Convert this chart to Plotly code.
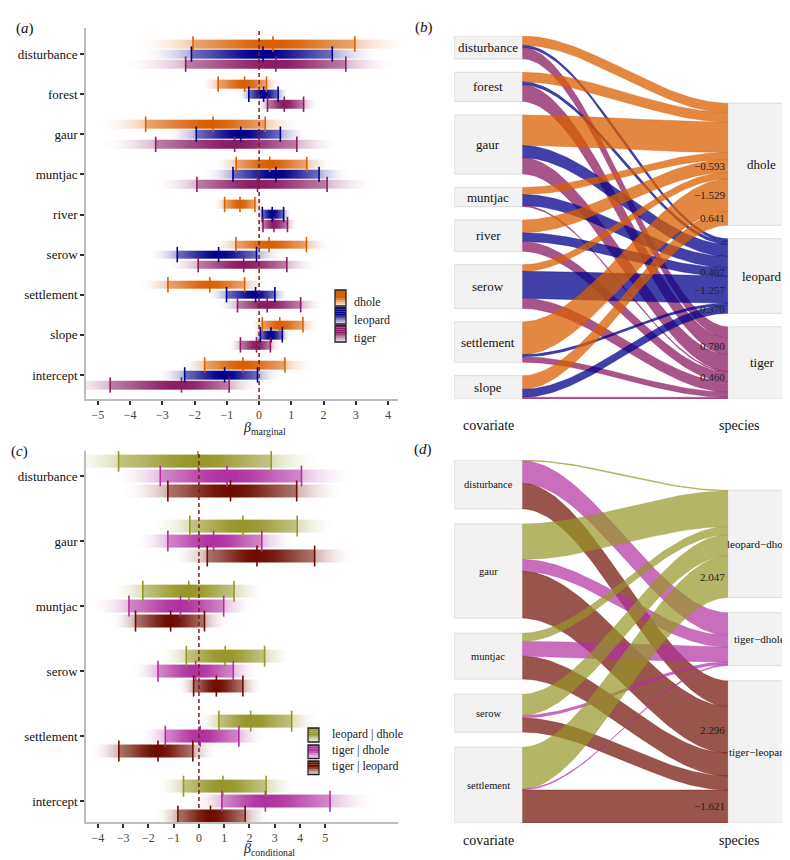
import numpy as np
import plotly.graph_objects as go

W, H = 790, 860
FONT = "Liberation Serif, Times New Roman, Times, serif"

# ---------------- Panel (a): marginal coefficients (lower, median, upper) ----------------
cov_a = ["disturbance", "forest", "gaur", "muntjac", "river", "serow", "settlement", "slope", "intercept"]
species_a = ["dhole", "leopard", "tiger"]
dhole_lo = [-2.05, -1.27, -3.52, -0.71, -1.07, -0.72, -2.83, 0.10, -1.69]
dhole_med = [0.43, -0.45, -1.43, 0.33, -0.593, 0.31, -1.529, 0.641, -0.50]
dhole_hi = [2.97, 0.23, 0.19, 1.48, -0.13, 1.47, -0.45, 1.36, 0.80]
leopard_lo = [-2.10, -0.32, -1.95, -0.81, 0.10, -2.54, -1.01, 0.04, -2.31]
leopard_med = [0.12, 0.14, -0.57, 0.52, 0.407, -1.257, -0.11, 0.370, -1.07]
leopard_hi = [2.27, 0.59, 0.66, 1.86, 0.76, -0.08, 0.49, 0.72, -0.05]
tiger_lo = [-2.28, 0.26, -3.21, -1.93, 0.12, -1.89, -0.67, -0.58, -4.62]
tiger_med = [0.52, 0.780, -0.76, -0.05, 0.460, -0.48, 0.25, -0.08, -2.41]
tiger_hi = [2.69, 1.38, 1.17, 2.11, 0.88, 0.86, 1.29, 0.35, -0.93]
ticks_a = [-5, -4, -3, -2, -1, 0, 1, 2, 3, 4]

# ---------------- Panel (c): conditional coefficients ----------------
cov_c = ["disturbance", "gaur", "muntjac", "serow", "settlement", "intercept"]
pairs_c = ["leopard | dhole", "tiger | dhole", "tiger | leopard"]
pairs_d = ["leopard\u2212dhole", "tiger\u2212dhole", "tiger\u2212leopard"]
ld_lo = [-3.18, -0.36, -2.22, -0.50, 0.79, -0.61]
ld_med = [-0.04, 1.74, -0.40, 1.04, 2.047, 0.95]
ld_hi = [2.86, 3.89, 1.39, 2.60, 3.67, 2.66]
td_lo = [-1.53, -1.23, -2.77, -1.62, -1.33, 0.91]
td_med = [1.11, 0.58, -0.73, -0.13, 0.05, 2.63]
td_hi = [4.06, 2.49, 0.98, 1.36, 1.58, 5.19]
tl_lo = [-1.23, 0.33, -2.51, -0.21, -3.17, -0.83]
tl_med = [1.25, 2.296, -1.12, 0.69, -1.621, 0.46]
tl_hi = [3.87, 4.58, 0.22, 1.74, -0.24, 1.83]
ticks_c = [-4, -3, -2, -1, 0, 1, 2, 3, 4, 5]

# colours (style)
col_a = [(217, 95, 2), (0, 0, 139), (139, 28, 98)]
col_c = [(150, 150, 40), (176, 48, 160), (110, 12, 0)]

XR_A = [-5.372, 4.31]
XR_C = [-4.47, 7.88]


def fx(p):
    return p / W


def fy(p):
    return 1 - p / H


def rgba(c, a):
    return "rgba(%d,%d,%d,%.3f)" % (c[0], c[1], c[2], a)


def alpha_at(x, lo, med, hi):
    if x < med:
        hw = max(med - lo, 1e-6)
        t = (med - x) / hw
    else:
        hw = max(hi - med, 1e-6)
        t = (x - med) / hw
    if t <= 1:
        return 0.45 + 0.55 * np.exp(-1.5 * t * t)
    return 0.33 * max(0.0, 1 - (t - 1) / 0.75) ** 2


def gradient_heatmap(los, meds, his, ypos, color, bandh, xa, ya, xr, dx=0.01):
    xedges = np.arange(xr[0] - dx, xr[1] + 2 * dx, dx)
    xc = 0.5 * (xedges[:-1] + xedges[1:])
    rows, yedges = [], []
    n = len(ypos)
    for idx, (lo, med, hi, y) in enumerate(zip(los, meds, his, ypos)):
        rows.append([round(float(alpha_at(x, lo, med, hi)), 3) for x in xc])
        if idx < n - 1:
            rows.append([None] * len(xc))
        yedges += [y - bandh / 2, y + bandh / 2]
    return go.Heatmap(z=rows, x=[round(float(v), 4) for v in xedges], y=yedges,
                      colorscale=[[0, rgba(color, 0)], [1, rgba(color, 1)]],
                      zmin=0, zmax=1, showscale=False, zsmooth=False,
                      xaxis=xa, yaxis=ya, hoverinfo="skip")


def tick_trace(los, meds, his, ypos, color, size, xa, ya):
    xs = list(los) + list(meds) + list(his)
    ys = list(ypos) * 3
    return go.Scatter(x=xs, y=ys, mode="markers",
                      marker=dict(symbol="line-ns", size=size, color=rgba(color, 1),
                                  line=dict(width=1.6, color=rgba(color, 1))),
                      xaxis=xa, yaxis=ya, showlegend=False, hoverinfo="skip")


traces = []
shapes = []
annotations = []

# ---- panel (a) marks
series_a = [(dhole_lo, dhole_med, dhole_hi), (leopard_lo, leopard_med, leopard_hi),
            (tiger_lo, tiger_med, tiger_hi)]
offs_a = [-0.25, 0.0, 0.25]
for k, (lo, md, hi) in enumerate(series_a):
    yp = [i + offs_a[k] for i in range(len(cov_a))]
    traces.append(gradient_heatmap(lo, md, hi, yp, col_a[k], 0.22, "x", "y", XR_A))
for k, (lo, md, hi) in enumerate(series_a):
    yp = [i + offs_a[k] for i in range(len(cov_a))]
    traces.append(tick_trace(lo, md, hi, yp, col_a[k], 11, "x", "y"))

# ---- panel (c) marks
series_c = [(ld_lo, ld_med, ld_hi), (td_lo, td_med, td_hi), (tl_lo, tl_med, tl_hi)]
offs_c = [-0.23, 0.0, 0.23]
for k, (lo, md, hi) in enumerate(series_c):
    yp = [i + offs_c[k] for i in range(len(cov_c))]
    traces.append(gradient_heatmap(lo, md, hi, yp, col_c[k], 0.2, "x3", "y3", XR_C))
for k, (lo, md, hi) in enumerate(series_c):
    yp = [i + offs_c[k] for i in range(len(cov_c))]
    traces.append(tick_trace(lo, md, hi, yp, col_c[k], 15, "x3", "y3"))

# zero lines
for xr, yr in [("x", "y domain"), ("x3", "y3 domain")]:
    shapes.append(dict(type="line", xref=xr, yref=yr, x0=0, x1=0, y0=0, y1=1,
                       line=dict(color="#7a1f1f", width=1.5, dash="4px,3px")))


# ---- legends for (a) and (c)
def legend(entries, colors, bx0, bx1, boxes, tx, tys):
    for (y0, y1), c, lab, ty in zip(boxes, colors, entries, tys):
        n = 8
        hh = (y1 - y0) / n
        alphas = [1, 1, 1, 1, 0.8, 0.55, 0.35, 0.18]
        for j in range(n):
            shapes.append(dict(type="rect", xref="paper", yref="paper",
                               x0=fx(bx0), x1=fx(bx1), y0=fy(y0 + (j + 1) * hh), y1=fy(y0 + j * hh),
                               fillcolor=rgba(c, alphas[j]), line=dict(width=0)))
        shapes.append(dict(type="rect", xref="paper", yref="paper",
                           x0=fx(bx0), x1=fx(bx1), y0=fy(y1), y1=fy(y0),
                           fillcolor="rgba(0,0,0,0)", line=dict(color="#222", width=1.3)))
        annotations.append(dict(xref="paper", yref="paper", x=fx(tx), y=fy(ty), text=lab,
                                showarrow=False, xanchor="left", yanchor="middle",
                                font=dict(family=FONT, size=12, color="#222")))


legend(species_a, col_a, 327, 338, [(282, 298), (299.5, 316), (317.5, 334)], 344, [294, 312, 330])
legend(pairs_c, col_c, 300, 311, [(720, 734), (737, 750.5), (753, 766.5)], 322, [726, 742, 758])


# ---------------- Alluvial panels (b) and (d) ----------------
def alluvial(cov_names, sp_names, meds_by_sp, los_by_sp, his_by_sp, link_cols, xa, ya,
             cov_fs, sp_fs, sp_x):
    ncov, nsp = len(cov_names), len(sp_names)
    vals = np.array([[abs(meds_by_sp[j][i]) for j in range(nsp)] for i in range(ncov)])
    total = vals.sum()
    gap = 0.05 * total
    hcov = total + (ncov - 1) * gap
    hsp = total + (nsp - 1) * gap
    cov_top = []
    y = hcov
    for i in range(ncov):
        cov_top.append(y)
        y = y - vals[i].sum() - gap
    sp_top = []
    y = hsp
    for j in range(nsp):
        sp_top.append(y)
        y = y - vals[:, j].sum() - gap
    for i in range(ncov):
        t, b = cov_top[i], cov_top[i] - vals[i].sum()
        shapes.append(dict(type="rect", xref=xa, yref=ya, x0=0, x1=0.2, y0=b, y1=t,
                           fillcolor="#F2F2F2", line=dict(color="#DCDCDC", width=1), layer="below"))
        annotations.append(dict(xref=xa, yref=ya, x=0.1, y=(t + b) / 2, text=cov_names[i],
                                showarrow=False, font=dict(family=FONT, size=cov_fs, color="#111")))
    for j in range(nsp):
        t, b = sp_top[j], sp_top[j] - vals[:, j].sum()
        shapes.append(dict(type="rect", xref=xa, yref=ya, x0=0.8, x1=1.0, y0=b, y1=t,
                           fillcolor="#F2F2F2", line=dict(color="#DCDCDC", width=1), layer="below"))
        annotations.append(dict(xref=xa, yref=ya, x=sp_x, y=(t + b) / 2, text=sp_names[j],
                                showarrow=False, borderpad=0,
                                font=dict(family=FONT, size=sp_fs, color="#111")))
    sp_cursor = list(sp_top)
    cov_cursor = list(cov_top)
    tt = np.linspace(0, 1, 60)
    s = 3 * tt ** 2 - 2 * tt ** 3
    xs = 0.2 + 0.6 * tt
    for i in range(ncov):
        for j in range(nsp):
            v = vals[i, j]
            a0 = cov_cursor[i]
            b0 = sp_cursor[j]
            cov_cursor[i] -= v
            sp_cursor[j] -= v
            top = a0 + (b0 - a0) * s
            bot = top - v
            px = np.concatenate([xs, xs[::-1]])
            pyv = np.concatenate([top, bot[::-1]])
            traces.append(go.Scatter(x=px, y=pyv, mode="lines", fill="toself",
                                     fillcolor=link_cols[j], line=dict(color=link_cols[j], width=0.5),
                                     xaxis=xa, yaxis=ya, showlegend=False, hoverinfo="skip"))
            med = meds_by_sp[j][i]
            if los_by_sp[j][i] > 0 or his_by_sp[j][i] < 0:
                annotations.append(dict(xref=xa, yref=ya, x=0.8, y=b0 - v / 2,
                                        text=("%.3f" % med).replace("-", "\u2212"),
                                        showarrow=False, xanchor="right", xshift=-1,
                                        font=dict(family=FONT, size=11, color="#222")))
    return hcov


ncb = 8
hb = alluvial(cov_a[:ncb], species_a,
              [dhole_med[:ncb], leopard_med[:ncb], tiger_med[:ncb]],
              [dhole_lo[:ncb], leopard_lo[:ncb], tiger_lo[:ncb]],
              [dhole_hi[:ncb], leopard_hi[:ncb], tiger_hi[:ncb]],
              [rgba(c, 0.75) for c in col_a], "x2", "y2", 13, 13, 0.9)
ncd = 5
hd = alluvial(cov_c[:ncd], pairs_d,
              [ld_med[:ncd], td_med[:ncd], tl_med[:ncd]],
              [ld_lo[:ncd], td_lo[:ncd], tl_lo[:ncd]],
              [ld_hi[:ncd], td_hi[:ncd], tl_hi[:ncd]],
              [rgba(c, 0.7) for c in col_c], "x4", "y4", 10.5, 11, 0.893)

# column titles
for (px_, py_, txt) in [(480, 418, "covariate"), (753, 418, "species"),
                        (480, 842, "covariate"), (753, 842, "species")]:
    annotations.append(dict(xref="paper", yref="paper", x=fx(px_), y=fy(py_), text=txt,
                            showarrow=False, font=dict(family=FONT, size=14, color="#111")))

# panel labels
for (px_, py_, lab) in [(6, 10, "a"), (405, 9, "b"), (1, 443, "c"), (404, 442, "d")]:
    annotations.append(dict(xref="paper", yref="paper", x=fx(px_), y=fy(py_),
                            text="(<i>%s</i>)" % lab, showarrow=False, xanchor="left",
                            font=dict(family=FONT, size=15, color="#111")))

# axis titles
annotations.append(dict(xref="paper", yref="paper", x=fx(234), y=fy(420),
                        text="<i>\u03b2</i><sub>marginal</sub>", showarrow=False, borderpad=0,
                        font=dict(family=FONT, size=14, color="#222")))
annotations.append(dict(xref="paper", yref="paper", x=fx(234), y=fy(851),
                        text="<i>\u03b2</i><sub>conditional</sub>", showarrow=False, borderpad=0,
                        font=dict(family=FONT, size=14, color="#222")))

axis_common = dict(showgrid=False, zeroline=False, showline=True, linecolor="#BDBDBD",
                   linewidth=1.5, ticks="outside", ticklen=4, tickwidth=1.5, tickcolor="#333",
                   fixedrange=True)

fig = go.Figure(data=traces)
fig.update_layout(
    width=W, height=H, margin=dict(l=0, r=0, t=0, b=0),
    paper_bgcolor="white", plot_bgcolor="white", showlegend=False,
    font=dict(family=FONT, color="#222"),
    xaxis=dict(domain=[fx(78), fx(390)], anchor="y", range=XR_A, tickvals=ticks_a,
               tickfont=dict(family=FONT, size=12, color="#444"), **axis_common),
    yaxis=dict(domain=[fy(391), fy(20)], anchor="x", range=[8.6, -0.65],
               tickvals=list(range(len(cov_a))), ticktext=cov_a,
               tickfont=dict(family=FONT, size=13, color="#111"), **axis_common),
    xaxis3=dict(domain=[fx(78), fx(390)], anchor="y3", range=XR_C, tickvals=ticks_c,
                tickfont=dict(family=FONT, size=12, color="#444"), **axis_common),
    yaxis3=dict(domain=[fy(814), fy(443)], anchor="x3", range=[5.32, -0.385],
                tickvals=list(range(len(cov_c))), ticktext=cov_c,
                tickfont=dict(family=FONT, size=13, color="#111"), **axis_common),
    xaxis2=dict(domain=[fx(446), fx(788)], anchor="y2", range=[0, 1], visible=False, fixedrange=True),
    yaxis2=dict(domain=[fy(391), fy(28)], anchor="x2", range=[0, hb], visible=False, fixedrange=True),
    xaxis4=dict(domain=[fx(446), fx(788)], anchor="y4", range=[0, 1], visible=False, fixedrange=True),
    yaxis4=dict(domain=[fy(815), fy(452)], anchor="x4", range=[0, hd], visible=False, fixedrange=True),
    shapes=shapes, annotations=annotations,
)

fig.write_html("out.html")
